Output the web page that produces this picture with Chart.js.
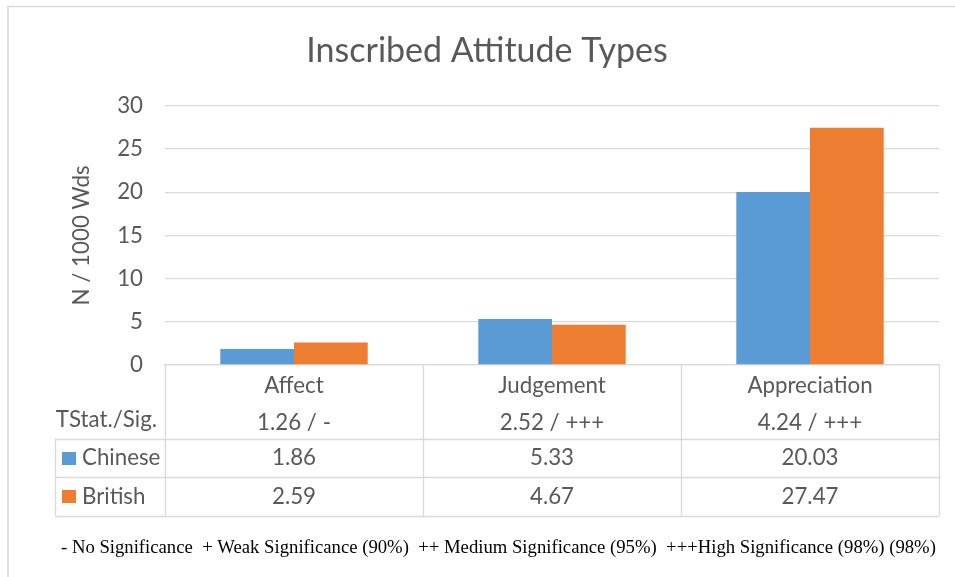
<!DOCTYPE html>
<html>
<head>
<meta charset="utf-8">
<script src="https://cdn.jsdelivr.net/npm/chart.js@4/dist/chart.umd.min.js"></script>
<style>
  html, body { margin: 0; padding: 0; background: #ffffff; }
  #wrap { position: relative; width: 955px; height: 577px; }
</style>
</head>
<body>
<div id="wrap"><canvas id="c"></canvas></div>
<script>
// ---- data ----
const titleText = 'Inscribed Attitude Types';
const yAxisTitle = 'N / 1000 Wds';
const categories = ['Affect', 'Judgement', 'Appreciation'];
const tStatSig = ['1.26 / -', '2.52 / +++', '4.24 / +++'];
const tStatLabel = 'TStat./Sig.';
const seriesNames = ['Chinese', 'British'];
const chineseValues = [1.86, 5.33, 20.03];
const britishValues = [2.59, 4.67, 27.47];
const yMin = 0, yMax = 30, yStep = 5;
const footnote = '- No Significance  + Weak Significance (90%)  ++ Medium Significance (95%)  +++High Significance (98%) (98%)';

// ---- styles ----
const TEXT = '#595959';
const LINE = '#d9d9d9';
const COLORS = ['#5B9BD5', '#ED7D31'];
const FONT = 'Lato';
const FS = 22.3;
const seriesValues = [chineseValues, britishValues];

const tablePlugin = {
  id: 'dataTable',
  beforeDraw(chart) {
    const ctx = chart.ctx;
    ctx.save();
    ctx.strokeStyle = LINE;
    ctx.lineWidth = 1.5;
    ctx.beginPath();
    ctx.moveTo(8, 1000); ctx.lineTo(8, 6.5); ctx.lineTo(1000, 6.5);
    ctx.stroke();
    ctx.restore();
  },
  afterDraw(chart) {
    const ctx = chart.ctx;
    const area = chart.chartArea;
    const xs = chart.scales.x;
    const n = categories.length;
    const catW = (area.right - area.left) / n;
    const top = area.bottom;
    const row1 = top + 74;
    const rowH = 38.3;
    const bottom = row1 + rowH * 2;
    const labelLeft = 55;
    ctx.save();
    ctx.strokeStyle = LINE;
    ctx.lineWidth = 1.3;
    ctx.beginPath();
    for (let i = 0; i <= n; i++) {
      const bx = Math.round(xs.getPixelForValue(0) - catW / 2 + i * catW) + 0.5;
      ctx.moveTo(bx, top); ctx.lineTo(bx, bottom);
    }
    ctx.moveTo(labelLeft + 0.5, row1); ctx.lineTo(labelLeft + 0.5, bottom);
    for (let r = 0; r <= 2; r++) {
      const hy = Math.round(row1 + r * rowH) + 0.5;
      ctx.moveTo(labelLeft, hy); ctx.lineTo(area.right, hy);
    }
    ctx.stroke();

    ctx.font = FS + 'px ' + FONT;
    ctx.fillStyle = TEXT;
    ctx.textBaseline = 'middle';
    ctx.textAlign = 'right';
    ctx.fillText(tStatLabel, 157, top + 55);
    for (let s = 0; s < seriesNames.length; s++) {
      const cy = row1 + rowH * s + rowH / 2;
      ctx.fillStyle = COLORS[s];
      ctx.fillRect(62, Math.round(cy - 6.5), 14, 13);
      ctx.fillStyle = TEXT;
      ctx.textAlign = 'left';
      ctx.fillText(seriesNames[s], 82, cy);
      ctx.textAlign = 'center';
      for (let i = 0; i < n; i++) {
        ctx.fillText(seriesValues[s][i].toFixed(2), xs.getPixelForValue(i), cy);
      }
    }
    ctx.font = '18.7px "Liberation Serif"';
    ctx.fillStyle = '#000000';
    ctx.textAlign = 'left';
    ctx.fillText(footnote, 61, 548);
    ctx.restore();
  }
};

new Chart(document.getElementById('c'), {
  type: 'bar',
  data: {
    labels: categories,
    datasets: seriesNames.map((name, s) => ({
      label: name,
      data: seriesValues[s],
      backgroundColor: COLORS[s],
      borderWidth: 0,
      categoryPercentage: 0.5714,
      barPercentage: 1.0
    }))
  },
  options: {
    responsive: true,
    maintainAspectRatio: false,
    animation: false,
    layout: { padding: { left: 35, right: 16, top: 0, bottom: 0 } },
    plugins: {
      legend: { display: false },
      tooltip: { enabled: false },
      title: {
        display: true,
        text: titleText,
        color: TEXT,
        font: { family: FONT, size: 34, weight: 'normal', lineHeight: 1.2 },
        padding: { top: 31, bottom: 34 }
      }
    },
    scales: {
      x: {
        type: 'category',
        grid: { display: false },
        border: { display: true, color: LINE, width: 1.3 },
        ticks: {
          color: TEXT,
          font: { family: FONT, size: FS, lineHeight: 37 / FS },
          padding: -6,
          maxRotation: 0,
          autoSkip: false,
          callback: function (v, i) { return [categories[i], tStatSig[i]]; }
        },
        afterFit: function (scale) { scale.height = 212; }
      },
      y: {
        min: yMin,
        max: yMax,
        grid: { color: LINE, lineWidth: 1.3, drawTicks: false },
        border: { display: false },
        ticks: {
          stepSize: yStep,
          color: TEXT,
          font: { family: FONT, size: FS },
          padding: 22
        },
        title: {
          display: true,
          text: yAxisTitle,
          color: TEXT,
          font: { family: FONT, size: FS, lineHeight: 1.2 },
          padding: { top: 33, bottom: 0 }
        },
        afterFit: function (scale) { scale.width = 130; }
      }
    }
  },
  plugins: [tablePlugin]
});
</script>
</body>
</html>
